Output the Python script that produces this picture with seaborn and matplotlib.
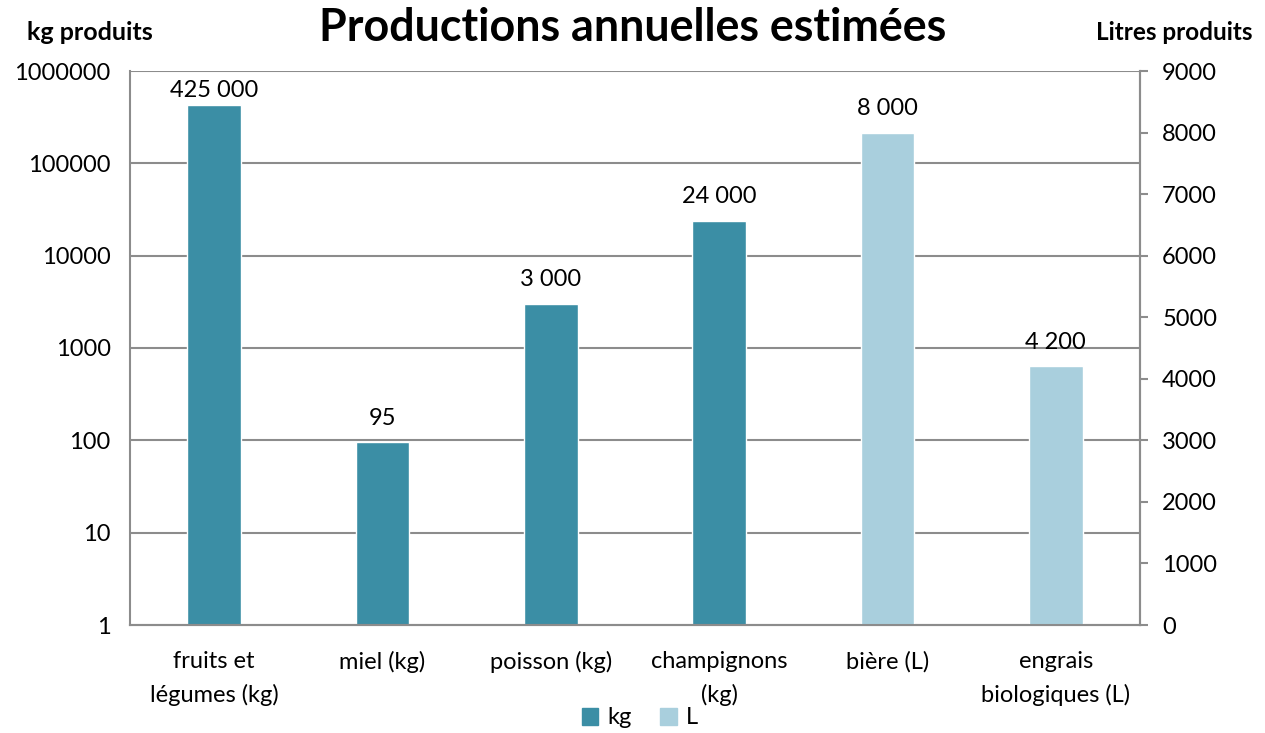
import matplotlib
matplotlib.use("Agg")
import matplotlib.pyplot as plt
import seaborn as sns
import pandas as pd
from matplotlib.patches import Patch

categories = ["fruits et\nlégumes (kg)", "miel (kg)", "poisson (kg)", "champignons\n(kg)", "bière (L)", "engrais\nbiologiques (L)"]
kg_values = [425000, 95, 3000, 24000, None, None]
l_values = [None, None, None, None, 8000, 4200]
labels_kg = ["425 000", "95", "3 000", "24 000"]
labels_l = ["8 000", "4 200"]
left_ticks = [1, 10, 100, 1000, 10000, 100000, 1000000]
right_ticks = [0, 1000, 2000, 3000, 4000, 5000, 6000, 7000, 8000, 9000]

c_kg = "#3B8EA5"
c_l = "#A9CFDD"
grey = "#8C8C8C"

sns.set_theme(style="white")
plt.rcParams['font.family'] = ['Lato', 'DejaVu Sans']
plt.rcParams['text.color'] = 'black'
plt.rcParams['xtick.color'] = 'black'
plt.rcParams['ytick.color'] = 'black'

df_kg = pd.DataFrame({"cat": categories, "val": kg_values}).dropna()
df_l = pd.DataFrame({"cat": categories, "val": l_values}).dropna()

fig = plt.figure(figsize=(12.65, 7.33), dpi=100)
ax = fig.add_axes([130/1265, 1-625/733, 1010/1265, 554/733])
ax2 = ax.twinx()

sns.barplot(data=df_kg, x="cat", y="val", order=categories, color=c_kg, width=0.32, ax=ax, saturation=1)
ax.set_yscale("log")
ax.set_ylim(1, 1000000)
sns.barplot(data=df_l, x="cat", y="val", order=categories, color=c_l, width=0.32, ax=ax2, saturation=1)
ax2.set_ylim(0, 9000)
ax.set_xlim(-0.5, 5.5)

fs = 17
ax.set_yticks(left_ticks)
ax.set_yticklabels([str(t) for t in left_ticks], fontsize=fs)
ax.yaxis.set_minor_locator(matplotlib.ticker.NullLocator())
ax2.set_yticks(right_ticks)
ax2.set_yticklabels([str(t) for t in right_ticks], fontsize=fs)

ax.set_xticks(range(len(categories)))
ax.set_xticklabels(categories, fontsize=fs, linespacing=1.65)
ax.tick_params(axis='x', length=0, pad=19)
ax.tick_params(axis='y', length=0, pad=14, labelcolor='black')
ax2.tick_params(axis='y', length=6, width=1.5, color=grey, direction='out', pad=10, labelcolor='black')

ax.set_xlabel("")
ax.set_ylabel("")
ax2.set_ylabel("")

for t in left_ticks[1:]:
    ax.axhline(t, color=grey, lw=1.5, zorder=0)
ax.set_axisbelow(True)
ax2.set_axisbelow(True)

for a in (ax, ax2):
    for s in ["left", "right", "bottom"]:
        a.spines[s].set_color(grey)
        a.spines[s].set_linewidth(1.5)
    a.spines["top"].set_visible(False)
ax2.spines["left"].set_visible(False)

# value labels (the tallest one is pushed down to stay inside the plot area, as in the original)
kg_bars = [p for p in ax.patches if p.get_height() > 0]
for p, lab in zip(kg_bars, labels_kg):
    off = 3 if p.get_height() > 200000 else 10
    ax.annotate(lab, (p.get_x() + p.get_width() / 2, p.get_height()), xytext=(0, off),
                textcoords="offset points", ha="center", va="bottom", fontsize=fs, color="black")
l_bars = [p for p in ax2.patches if p.get_height() > 0]
for p, lab in zip(l_bars, labels_l):
    ax2.annotate(lab, (p.get_x() + p.get_width() / 2, p.get_height()), xytext=(0, 10),
                 textcoords="offset points", ha="center", va="bottom", fontsize=fs, color="black")

fig.text(633/1265, 1-28/733, "Productions annuelles estimées", ha="center", va="center",
         fontsize=32.3, fontweight="bold", color="black")
fig.text(90/1265, 1-32/733, "kg produits", ha="center", va="center", fontsize=18, fontweight="bold", color="black")
fig.text(1174/1265, 1-32/733, "Litres produits", ha="center", va="center", fontsize=17.5, fontweight="bold", color="black")

handles = [Patch(color=c_kg, label="kg"), Patch(color=c_l, label="L")]
fig.legend(handles=handles, loc="center", bbox_to_anchor=(640/1265, 1-718/733), ncol=2, frameon=False,
           fontsize=fs, handlelength=0.7, handleheight=0.7, handletextpad=0.4, columnspacing=1.2)

fig.savefig("out.png", dpi=100)
